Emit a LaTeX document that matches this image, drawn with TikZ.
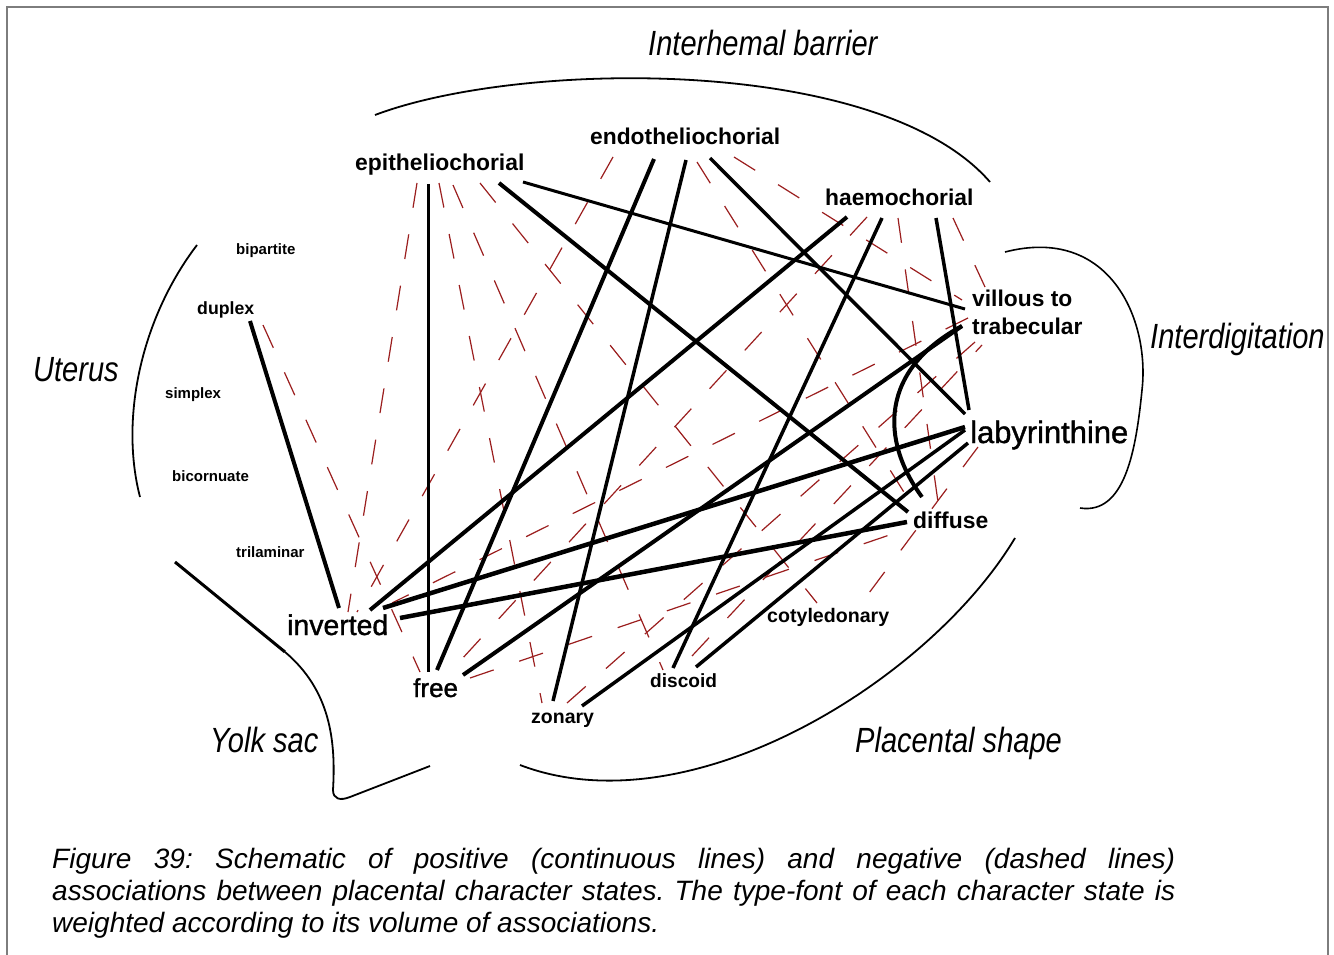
\documentclass[tikz,border=0pt]{standalone}
\usepackage{fontspec}
\usepackage{graphicx}
\setmainfont{Liberation Sans}
\frenchspacing
\definecolor{negred}{RGB}{155,30,30}
\definecolor{framegray}{RGB}{125,125,125}
\begin{document}
\begin{tikzpicture}[x=1pt,y=-1pt,
  pos/.style={line width=#1, draw=black},
  pos/.default=3.5pt,
  neg/.style={line width=1.2pt, draw=negred, dash pattern=on 25pt off 27pt},
  outline/.style={line width=1.8pt, draw=black},
  lab/.style={anchor=base west, inner sep=0pt},
  heavy/.style={anchor=base west, inner sep=0pt, font=\fontsize{#1}{#1}\selectfont\addfontfeature{FakeBold=1.3}},
  region/.style={anchor=base west, inner sep=0pt, font=\fontsize{35}{40}\selectfont\itshape},
  capline/.style={anchor=base west, inner sep=0pt, font=\fontsize{28}{32}\selectfont\itshape}
]
\useasboundingbox (0,0) rectangle (1334,955);
\fill[white] (0,0) rectangle (1334,955);
\draw[line width=1.5pt, framegray] (7,955) -- (7,7) -- (1328,7) -- (1328,955);

% ---------- character states ----------
\node[lab, font=\fontsize{22.9}{26}\selectfont\bfseries] (epi) at (355,171) {epitheliochorial};
\node[lab, font=\fontsize{22.8}{26}\selectfont\bfseries] (endo) at (590,145) {endotheliochorial};
\node[lab, font=\fontsize{22.8}{26}\selectfont\bfseries] (haemo) at (825,205) {haemochorial};
\node[lab, font=\fontsize{22.8}{26}\selectfont\bfseries] (vil) at (972,306) {villous to};
\node[lab, font=\fontsize{22.8}{26}\selectfont\bfseries] (trab) at (972,334) {trabecular};
\node[heavy=30.9] (lab) at (970,443) {labyrinthine};
\node[lab, font=\fontsize{22.9}{26}\selectfont\bfseries] (dif) at (913,528) {diffuse};
\node[lab, font=\fontsize{19.6}{23}\selectfont\bfseries] (cot) at (767,622) {cotyledonary};
\node[lab, font=\fontsize{19.1}{23}\selectfont\bfseries] (dis) at (650,687) {discoid};
\node[lab, font=\fontsize{19.5}{23}\selectfont\bfseries] (zon) at (531,723) {zonary};
\node[heavy=26] (free) at (413,697) {free};
\node[heavy=28.4] (inv) at (287,635) {inverted};
\node[lab, font=\fontsize{15}{18}\selectfont\bfseries] (tri) at (236,557) {trilaminar};
\node[lab, font=\fontsize{15}{18}\selectfont\bfseries] (bic) at (172,481) {bicornuate};
\node[lab, font=\fontsize{15}{18}\selectfont\bfseries] (sim) at (165,398) {simplex};
\node[lab, font=\fontsize{17.7}{21}\selectfont\bfseries] (dup) at (197,314) {duplex};
\node[lab, font=\fontsize{15}{18}\selectfont\bfseries] (bip) at (236,254) {bipartite};

% ---------- character groups ----------
\node[region] (ihb) at (648,56) {\scalebox{0.83}[1]{Interhemal barrier}};
\node[region] (idg) at (1150,348) {\scalebox{0.83}[1]{Interdigitation}};
\node[region] (ute) at (33,381) {\scalebox{0.83}[1]{Uterus}};
\node[region] (yolk) at (210,752) {\scalebox{0.83}[1]{Yolk sac}};
\node[region] (psh) at (855,752) {\scalebox{0.83}[1]{Placental shape}};

\draw[outline] (375,115) .. controls (520,60) and (880,55) .. (990,182);
\draw[line width=1.6pt] (1005,252) .. controls (1110,225) and (1150,320) .. (1142,390)
  .. controls (1136,450) and (1125,515) .. (1080,508);
\draw[outline] (197,245) .. controls (140,320) and (120,420) .. (140,497);
\draw[line width=3pt] (175,562) -- (285,652);
\draw[outline] (285,652) .. controls (330,690) and (336,740) .. (333,790)
  .. controls (333,799) and (340,801) .. (350,797) -- (430,766);
\draw[outline] (520,765) .. controls (690,830) and (930,680) .. (1015,538);

% ---------- connector end points ----------
\coordinate (dupS) at (250,321);  \coordinate (invA) at (339,608);
\coordinate (epiS1) at (428,184); \coordinate (freeA) at (428,672);
\coordinate (epiS2) at (499,183); \coordinate (difA) at (908,512);
\coordinate (epiS3) at (523,182); \coordinate (vilA) at (965,309);
\coordinate (endS1) at (654,159); \coordinate (freeB) at (437,670);
\coordinate (endS2) at (686,160); \coordinate (zonA) at (553,701);
\coordinate (endS3) at (710,158); \coordinate (labA) at (965,414);
\coordinate (haeS1) at (847,217); \coordinate (invB) at (370,610);
\coordinate (haeS2) at (882,218); \coordinate (disA) at (673,668);
\coordinate (haeS3) at (936,218); \coordinate (labB) at (969,410);
\coordinate (freeC) at (463,675); \coordinate (traA) at (962,326);
\coordinate (difB) at (922,497);
\coordinate (invC) at (383,608);  \coordinate (labC) at (965,427);
\coordinate (invD) at (400,618);  \coordinate (difC) at (907,522);
\coordinate (zonB) at (582,706);  \coordinate (labD) at (965,430);
\coordinate (disB) at (696,667);  \coordinate (labE) at (968,443);

\coordinate (dupN) at (263,325);  \coordinate (freeN1) at (420,672);
\coordinate (epiN1) at (417,183); \coordinate (invN1) at (348,612);
\coordinate (epiN2) at (439,183); \coordinate (zonN1) at (542,703);
\coordinate (epiN3) at (453,185); \coordinate (disN1) at (663,670);
\coordinate (epiN4) at (480,183); \coordinate (cotN1) at (817,603);
\coordinate (endN1) at (613,157); \coordinate (invN2) at (357,612);
\coordinate (endN2) at (697,162); \coordinate (difN1) at (912,505);
\coordinate (endN3) at (734,157); \coordinate (vilN1) at (962,300);
\coordinate (haeN1) at (867,217); \coordinate (freeN2) at (450,672);
\coordinate (haeN2) at (898,218); \coordinate (difN2) at (938,502);
\coordinate (haeN3) at (953,218); \coordinate (vilN2) at (985,287);
\coordinate (traN1) at (968,318); \coordinate (invN3) at (392,603);
\coordinate (zonN2) at (567,703); \coordinate (traN2) at (975,342);
\coordinate (disN2) at (692,656); \coordinate (traN3) at (982,345);
\coordinate (freeN3) at (470,678); \coordinate (difN3) at (910,528);
\coordinate (labN1) at (978,447); \coordinate (cotN2) at (860,605);

% ---------- negative associations ----------
\draw[neg] (dupN) -- (freeN1);
\draw[neg] (epiN1) -- (invN1);
\draw[neg] (epiN2) -- (zonN1);
\draw[neg] (epiN3) -- (disN1);
\draw[neg] (epiN4) -- (cotN1);
\draw[neg] (endN1) -- (invN2);
\draw[neg] (endN2) -- (difN1);
\draw[neg] (endN3) -- (vilN1);
\draw[neg] (haeN1) -- (freeN2);
\draw[neg] (haeN2) -- (difN2);
\draw[neg] (haeN3) -- (vilN2);
\draw[neg] (traN1) -- (invN3);
\draw[neg] (zonN2) -- (traN2);
\draw[neg] (disN2) -- (traN3);
\draw[neg] (freeN3) -- (difN3);
\draw[neg] (labN1) -- (cotN2);

% ---------- positive associations ----------
\draw[pos=4pt] (dupS) -- (invA);
\draw[pos=3pt] (epiS1) -- (freeA);
\draw[pos=4pt] (epiS2) -- (difA);
\draw[pos=3pt] (epiS3) -- (vilA);
\draw[pos=4pt] (endS1) -- (freeB);
\draw[pos] (endS2) -- (zonA);
\draw[pos] (endS3) -- (labA);
\draw[pos=4pt] (haeS1) -- (invB);
\draw[pos] (haeS2) -- (disA);
\draw[pos] (haeS3) -- (labB);
\draw[pos=4pt] (freeC) -- (traA);
\draw[pos=4pt] (traA) .. controls (880,370) and (880,440) .. (difB);
\draw[pos=4.5pt] (invC) -- (labC);
\draw[pos=4.5pt] (invD) -- (difC);
\draw[pos] (zonB) -- (labD);
\draw[pos] (disB) -- (labE);

% ---------- caption ----------
\node[capline] (cap1) at (52,868) {\makebox[1123pt][s]{Figure 39: Schematic of positive (continuous lines) and negative (dashed lines)}};
\node[capline] (cap2) at (52,900) {\makebox[1123pt][s]{associations between placental character states. The type-font of each character state is}};
\node[capline] (cap3) at (52,932) {weighted according to its volume of associations.};
\end{tikzpicture}
\end{document}
